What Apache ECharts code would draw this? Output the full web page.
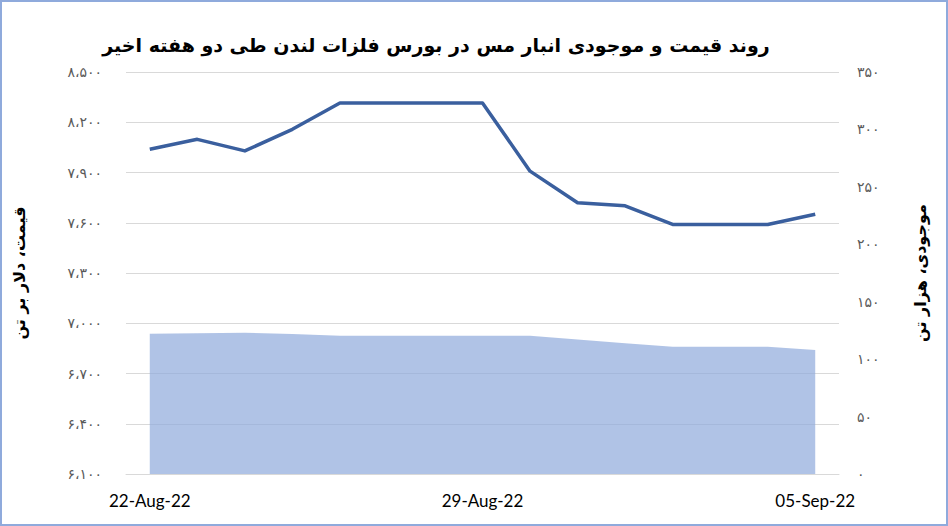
<!DOCTYPE html>
<html>
<head>
<meta charset="utf-8">
<script src="https://cdn.jsdelivr.net/npm/echarts@6/dist/echarts.min.js"></script>
<style>
html,body{margin:0;padding:0;background:#fff;}
#c{width:948px;height:526px;}
</style>
</head>
<body>
<div id="c"></div>
<script>
const titleText = 'روند قیمت و موجودی انبار مس در بورس فلزات لندن طی دو هفته اخیر';
const priceAxisName = 'قیمت، دلار بر تن';
const stockAxisName = 'موجودی، هزار تن';
const dates = ['22-Aug-22','23-Aug-22','24-Aug-22','25-Aug-22','26-Aug-22','27-Aug-22','28-Aug-22','29-Aug-22','30-Aug-22','31-Aug-22','01-Sep-22','02-Sep-22','03-Sep-22','04-Sep-22','05-Sep-22'];
const price = [8039, 8098, 8029, 8158, 8315, 8315, 8315, 8315, 7908, 7719, 7701, 7590, 7590, 7590, 7651];
const stock = [122.2, 122.6, 123.0, 121.8, 120.4, 120.4, 120.4, 120.4, 120.4, 117.1, 113.8, 110.8, 110.8, 110.8, 108.0];
const priceTicks = [6100, 6400, 6700, 7000, 7300, 7600, 7900, 8200, 8500];
const priceTickLabels = ['۶،۱۰۰','۶،۴۰۰','۶،۷۰۰','۷،۰۰۰','۷،۳۰۰','۷،۶۰۰','۷،۹۰۰','۸،۲۰۰','۸،۵۰۰'];
const stockTicks = [0, 50, 100, 150, 200, 250, 300, 350];
const stockTickLabels = ['۰','۵۰','۱۰۰','۱۵۰','۲۰۰','۲۵۰','۳۰۰','۳۵۰'];

const chart = echarts.init(document.getElementById('c'), null, {renderer: 'svg'});
chart.setOption({
  backgroundColor: '#fff',
  animation: false,
  graphic: [
    {type: 'rect', shape: {x: 1, y: 1, width: 946, height: 524}, style: {fill: 'none', stroke: '#8FAADC', lineWidth: 2}, z: 100},
    {type: 'text', x: 436, y: 45, style: {text: titleText, align: 'center', verticalAlign: 'middle', font: 'bold 19px "DejaVu Sans"', fill: '#000'}}
  ],
  grid: {left: 126, right: 109, top: 72, bottom: 52, containLabel: false},
  xAxis: {
    type: 'category', data: dates, boundaryGap: true,
    axisLine: {lineStyle: {color: '#D9D9D9', width: 1}},
    axisTick: {show: false},
    axisLabel: {interval: 6, color: '#000', fontSize: 17, fontFamily: 'Lato', margin: 18}
  },
  yAxis: [
    {
      type: 'value', min: 6100, max: 8500,
      name: priceAxisName, nameLocation: 'middle', nameRotate: 90, nameGap: 99,
      nameTextStyle: {fontFamily: 'DejaVu Sans', fontWeight: 'bold', fontSize: 16, color: '#000'},
      axisLine: {show: false}, axisTick: {show: false, customValues: priceTicks},
      axisLabel: {customValues: priceTicks, color: '#595959', fontSize: 14, fontFamily: 'DejaVu Sans', margin: 24,
        formatter: v => priceTickLabels[priceTicks.indexOf(v)]},
      splitLine: {show: true, lineStyle: {color: '#D9D9D9', width: 1}}
    },
    {
      type: 'value', min: 0, max: 350, interval: 50, position: 'right',
      name: stockAxisName, nameLocation: 'middle', nameRotate: 90, nameGap: 73,
      nameTextStyle: {fontFamily: 'DejaVu Sans', fontWeight: 'bold', fontSize: 16, color: '#000'},
      axisLine: {show: false}, axisTick: {show: false},
      axisLabel: {color: '#595959', fontSize: 14, fontFamily: 'DejaVu Sans', margin: 18,
        formatter: v => stockTickLabels[stockTicks.indexOf(v)]},
      splitLine: {show: false}
    }
  ],
  series: [
    {type: 'line', yAxisIndex: 1, data: stock, symbol: 'none', smooth: false,
      lineStyle: {width: 0}, areaStyle: {color: 'rgba(143,170,220,0.7)', opacity: 1}, z: 1},
    {type: 'line', yAxisIndex: 0, data: price, symbol: 'none',
      lineStyle: {color: '#3A5F9E', width: 3.5, join: 'round'}, z: 3}
  ]
});
</script>
</body>
</html>
